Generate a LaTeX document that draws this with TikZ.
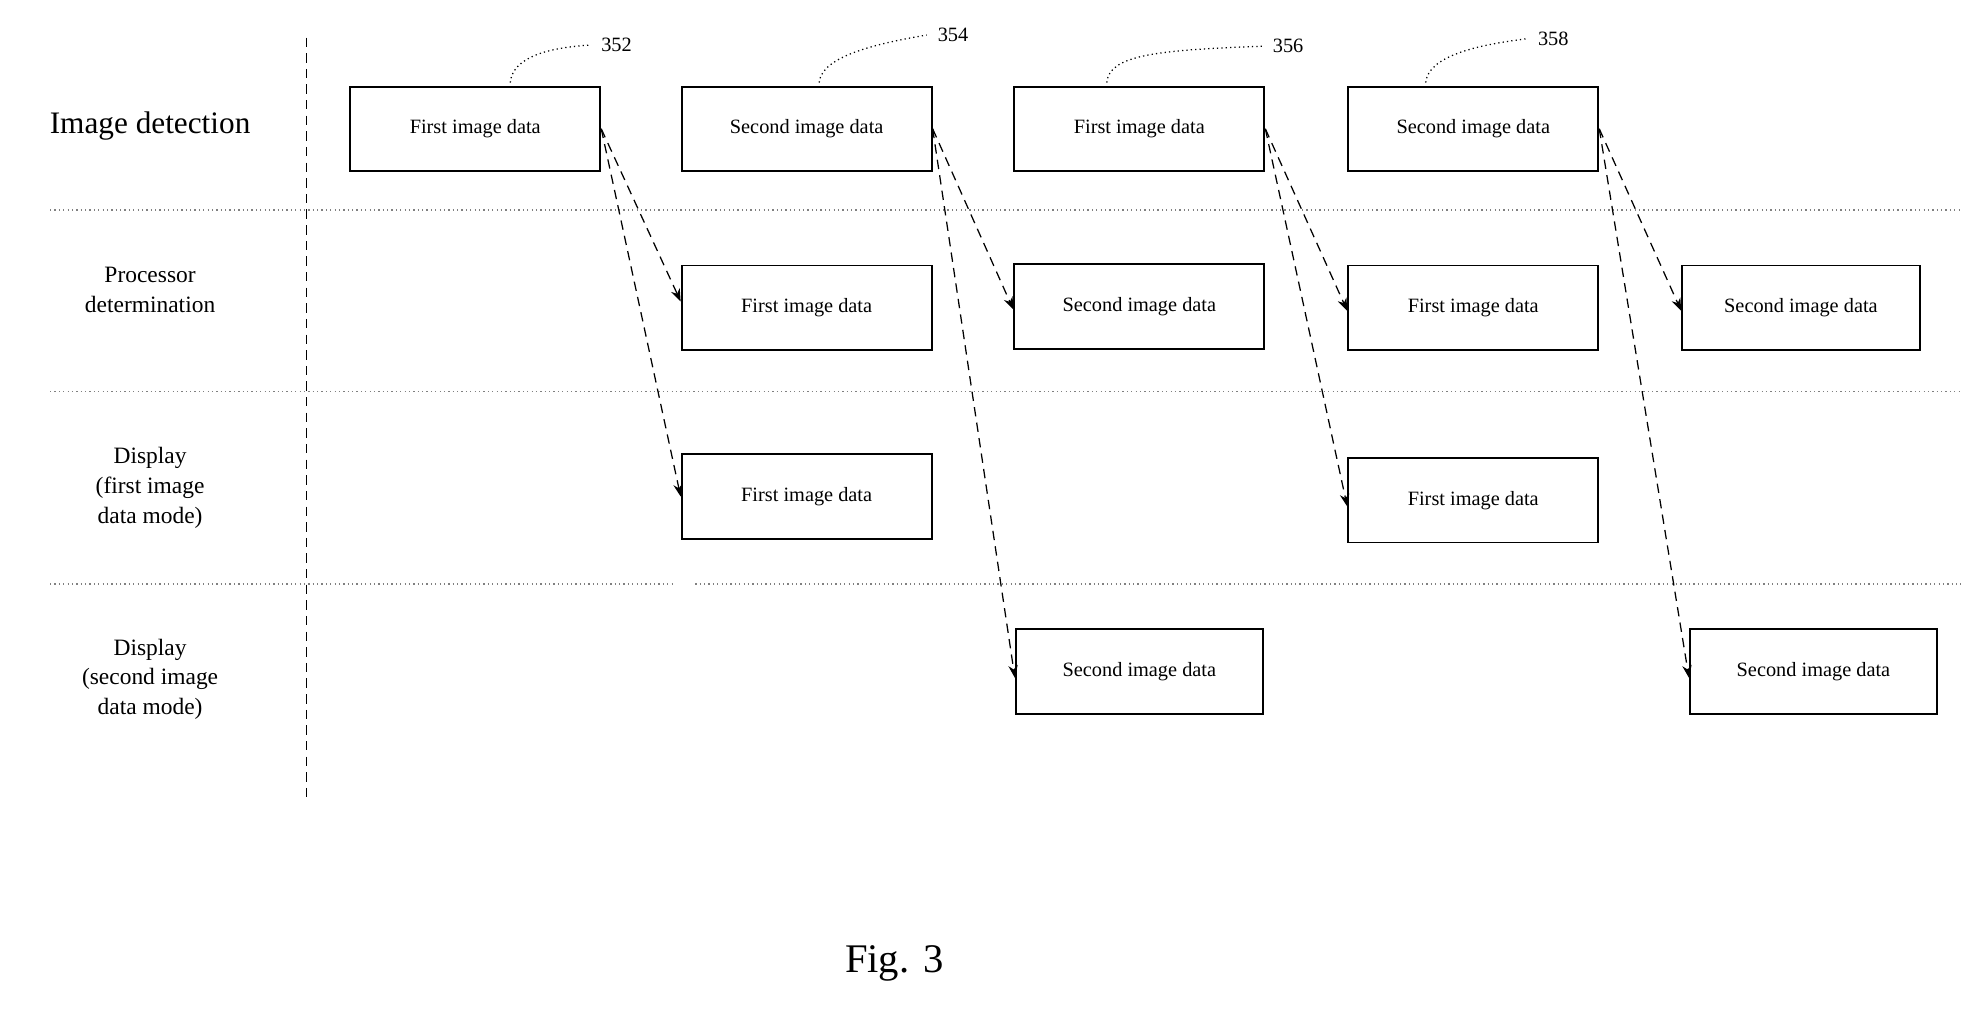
\documentclass[tikz,border=0pt]{standalone}
\usepackage{fontspec}
\setmainfont{Liberation Serif}
\usetikzlibrary{arrows.meta}
\begin{document}
\begin{tikzpicture}[x=0.4pt,y=-0.4pt,
  box/.style={draw,line width=0.6pt,minimum width=80pt,minimum height=27pt,inner sep=0pt,font=\fontsize{6.5}{8}\selectfont},
  lab/.style={align=center,font=\fontsize{7.5}{9.5}\selectfont},
  num/.style={font=\fontsize{6.5}{8}\selectfont},
  sep/.style={densely dotted,line width=0.4pt,gray},
  arr/.style={densely dashed,line width=0.4pt,-{Stealth[length=4pt]}},
  lead/.style={densely dotted,line width=0.4pt}]
\useasboundingbox (0,0) rectangle (1568,809);
\draw[densely dashed,line width=0.5pt] (245,30) -- (245,640);
\draw[sep] (40,168) -- (1568,168);
\draw[sep] (40,313) -- (1568,313);
\draw[sep] (40,467) -- (540,467);
\draw[sep] (556,467) -- (1568,467);
\node[lab,font=\fontsize{10}{12}\selectfont] (l1) at (120,101) {Image detection};
\node[lab] (l2) at (120,232) {Processor\\determination};
\node[lab] (l3) at (120,390) {Display\\(first image\\data mode)};
\node[lab] (l4) at (120,543) {Display\\(second image\\data mode)};
\node[box] (a1) at (380,103) {First image data};
\node[box] (a2) at (645,103) {Second image data};
\node[box] (a3) at (911,103) {First image data};
\node[box] (a4) at (1178,103) {Second image data};
\node[box] (b1) at (645,246) {First image data};
\node[box] (b2) at (911,245) {Second image data};
\node[box] (b3) at (1178,246) {First image data};
\node[box,minimum width=76pt] (b4) at (1440,246) {Second image data};
\node[box] (c1) at (645,397) {First image data};
\node[box] (c3) at (1178,400) {First image data};
\node[box,minimum width=79pt] (d2) at (911,537) {Second image data};
\node[box,minimum width=79pt] (d4) at (1450,537) {Second image data};
\node[num] (n1) at (493,36) {352};
\node[num] (n2) at (762,28) {354};
\node[num] (n3) at (1030,37) {356};
\node[num] (n4) at (1242,31) {358};
\draw[lead] (408,66) .. controls (410,45) and (440,38) .. (n1.west);
\draw[lead] (655,66) .. controls (657,45) and (700,35) .. (n2.west);
\draw[lead] (885,66) .. controls (887,45) and (920,40) .. (n3.west);
\draw[lead] (1140,66) .. controls (1142,45) and (1180,36) .. (n4.west);
\draw[arr] (a1.east) -- ([yshift=2pt]b1.west);
\draw[arr] (a1.east) -- (c1.west);
\draw[arr] (a2.east) -- ([yshift=-1pt]b2.west);
\draw[arr] (a2.east) -- ([yshift=-2pt]d2.west);
\draw[arr] (a3.east) -- ([yshift=-1pt]b3.west);
\draw[arr] (a3.east) -- ([yshift=-2pt]c3.west);
\draw[arr] (a4.east) -- ([yshift=-1pt]b4.west);
\draw[arr] (a4.east) -- ([yshift=-2pt]d4.west);
\node[font=\fontsize{13}{15}\selectfont] (fig) at (715,770) {Fig. 3};
\end{tikzpicture}
\end{document}
